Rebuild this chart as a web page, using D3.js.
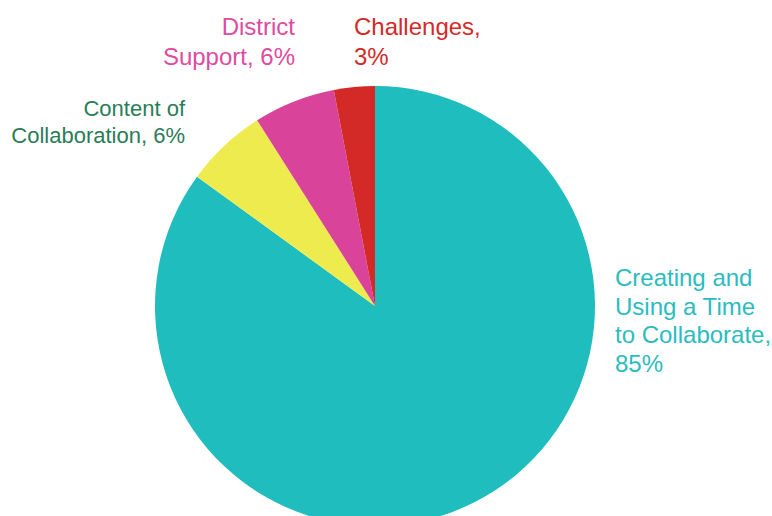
<!DOCTYPE html>
<html>
<head>
<meta charset="utf-8">
<script src="https://cdn.jsdelivr.net/npm/d3@7"></script>
<style>
  html, body { margin: 0; padding: 0; background: #fff; }
  svg text { font-family: "Liberation Sans", Arial, sans-serif; }
</style>
</head>
<body>
<svg id="chart" width="772" height="516"></svg>
<script>
// Share of comments by theme
const categories = [
  "Creating and Using a Time to Collaborate",
  "Content of Collaboration",
  "District Support",
  "Challenges"
];
const values = [85, 6, 6, 3];
const sliceColors = ["#1fbdbe", "#eeeb4f", "#d9449a", "#d42a27"];
const labelColors = ["#2bbcbf", "#2a7d57", "#df4ba0", "#d42a27"];
// Label text split into lines
const labelLines = [
  ["Creating and", "Using a Time", "to Collaborate,", "85%"],
  ["Content of", "Collaboration, 6%"],
  ["District", "Support, 6%"],
  ["Challenges,", "3%"]
];

const svg = d3.select("#chart");
const cx = 375, cy = 306, radius = 220;

const pie = d3.pie().sort(null).value(d => d);
const arcs = pie(values);
const arc = d3.arc().innerRadius(0).outerRadius(radius);

const g = svg.append("g").attr("transform", `translate(${cx},${cy})`);
g.selectAll("path")
  .data(arcs)
  .join("path")
  .attr("d", arc)
  .attr("fill", (d, i) => sliceColors[i]);

// Label anchor positions (first baseline), alignment and type size per slice
const labelPos = [
  { x: 615, y: 286, anchor: "start", size: 24, lh: 28.6 },
  { x: 185, y: 116, anchor: "end", size: 22, lh: 26.6 },
  { x: 295, y: 35, anchor: "end", size: 24, lh: 29.5 },
  { x: 354, y: 35, anchor: "start", size: 24, lh: 29.5 }
];

const labels = svg.append("g");
labelLines.forEach((lines, i) => {
  const p = labelPos[i];
  const t = labels.append("text")
    .attr("x", p.x)
    .attr("y", p.y)
    .attr("text-anchor", p.anchor)
    .attr("fill", labelColors[i])
    .style("font-size", p.size + "px");
  lines.forEach((ln, j) => {
    t.append("tspan")
      .attr("x", p.x)
      .attr("y", p.y + j * p.lh)
      .text(ln);
  });
});
</script>
</body>
</html>
